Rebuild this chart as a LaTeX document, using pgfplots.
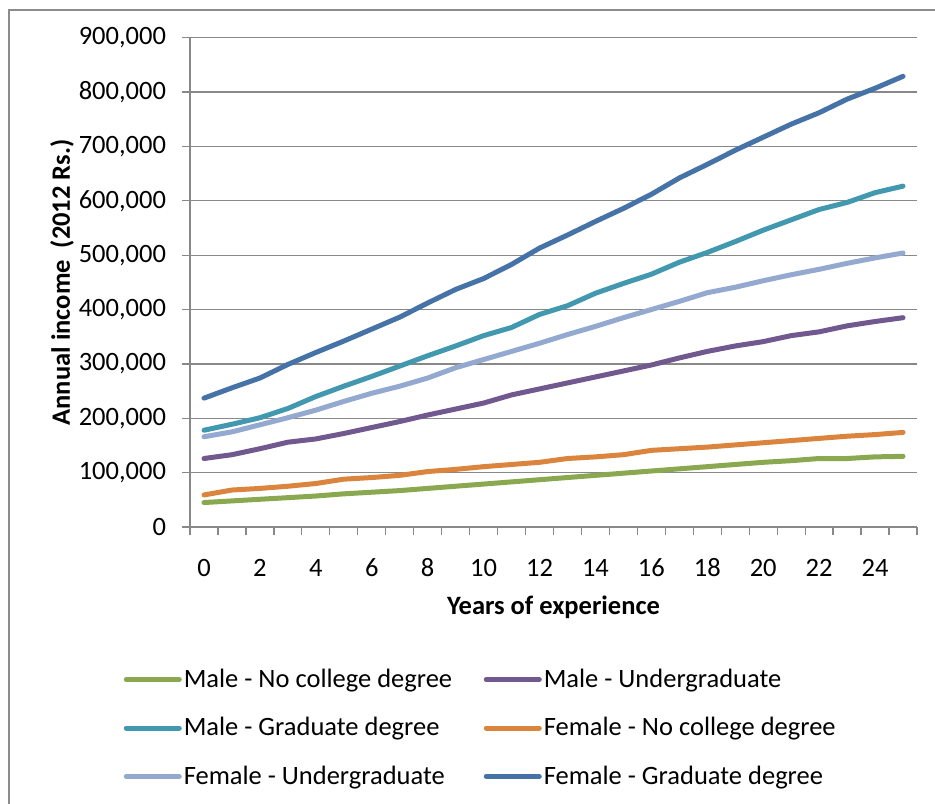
\documentclass[border=0pt]{standalone}
\usepackage{fontspec}
\setmainfont{Carlito}
\usepackage{pgfplots}
\pgfplotsset{compat=1.18}
\definecolor{cgreen}{HTML}{8AA84F}
\definecolor{cpurple}{HTML}{71588F}
\definecolor{cteal}{HTML}{4198AF}
\definecolor{corange}{HTML}{DB843D}
\definecolor{clblue}{HTML}{93A9CF}
\definecolor{cdblue}{HTML}{4572A7}
\definecolor{gridgray}{HTML}{888888}
\definecolor{bordergray}{HTML}{8C8C8C}

\pgfplotstableread{
x mnc mug mgd fnc fug fgd
0 45000 126000 178000 59000 166000 237000
1 48000 133000 189000 68000 175000 256000
2 51000 144000 201000 71000 188000 274000
3 54000 156000 218000 75000 201000 299000
4 57000 162000 240000 80000 215000 321000
5 61000 172000 259000 88000 231000 342000
6 64000 183000 277000 91000 246000 364000
7 67000 194000 296000 95000 259000 386000
8 71000 206000 315000 102000 274000 412000
9 75000 217000 333000 106000 293000 437000
10 79000 228000 352000 111000 308000 457000
11 83000 243000 367000 115000 323000 483000
12 87000 254000 391000 119000 338000 513000
13 91000 265000 407000 126000 354000 537000
14 95000 276000 430000 129000 369000 562000
15 99000 287000 448000 133000 385000 586000
16 103000 298000 465000 141000 400000 612000
17 107000 311000 487000 144000 415000 642000
18 111000 323000 505000 147000 431000 667000
19 115000 333000 525000 151000 441000 693000
20 119000 341000 546000 155000 453000 717000
21 122000 352000 565000 159000 464000 741000
22 126000 359000 584000 163000 474000 762000
23 126000 370000 597000 167000 485000 787000
24 129000 378000 615000 170000 495000 807000
25 130000 385000 627000 174000 504000 829000
}\datatable

\begin{document}
\fontsize{26.5bp}{31bp}\selectfont
\begin{tikzpicture}
\path[use as bounding box] (0,0) rectangle (935bp,-804bp);
\draw[color=bordergray, line width=1.5bp] (9bp,-815bp) -- (9bp,-10bp) -- (945bp,-10bp);
\begin{axis}[
  at={(190bp,-527bp)}, anchor=south west,
  scale only axis, width=727bp, height=489.3bp,
  xmin=-0.5, xmax=25.5, ymin=0, ymax=900000,
  axis x line=bottom, axis y line=left,
  axis line style={-, draw=gridgray, line width=1.3bp},
  xtick={-0.5,0.5,...,25.5}, xticklabels={},
  extra x ticks={0,2,...,24},
  extra x tick labels={0,2,4,6,8,10,12,14,16,18,20,22,24},
  extra x tick style={major tick length=0pt},
  ytick={0,100000,...,900000},
  ymajorgrids, grid style={draw=gridgray, line width=1.3bp},
  tick align=outside, major tick length=8bp,
  tick style={draw=gridgray, line width=1.3bp},
  scaled y ticks=false,
  yticklabel style={xshift=-7bp, /pgf/number format/fixed, /pgf/number format/precision=0, /pgf/number format/1000 sep={,}, /pgf/number format/assume math mode=true},
  xticklabel style={/pgf/number format/assume math mode=true, text height=16.5bp, text depth=0pt, anchor=north, yshift=-24bp},
  every axis y label/.style={at={(rel axis cs:-0.176,0.5)}, anchor=center, rotate=90},
  every axis x label/.style={at={(rel axis cs:0.5,-0.1635)}, anchor=center},
  ylabel={\bfseries Annual income\ \ (2012 Rs.)},
  xlabel={\bfseries Years of experience},
  legend columns=2,
  legend style={at={(rel axis cs:-0.0911,-0.2861)}, anchor=north west, draw=none, fill=none,
    inner sep=0pt, outer sep=0pt, column sep=0pt, row sep=20.5bp,
    nodes={inner sep=2bp, text height=18bp, text depth=6bp, anchor=base west}},
  legend cell align=left,
  legend image code/.code={\draw[#1, line width=5bp, line cap=round] (0bp,7.5bp) -- (53bp,7.5bp);},
  every axis plot/.append style={line width=5bp, line cap=round, line join=round, mark=none},
]
\addplot[cgreen] table[x=x, y=mnc] {\datatable};
\addlegendentry{\makebox[298bp][l]{Male - No college degree}}
\addplot[cpurple] table[x=x, y=mug] {\datatable};
\addlegendentry{Male - Undergraduate}
\addplot[cteal] table[x=x, y=mgd] {\datatable};
\addlegendentry{\makebox[298bp][l]{Male - Graduate degree}}
\addplot[corange] table[x=x, y=fnc] {\datatable};
\addlegendentry{Female - No college degree}
\addplot[clblue] table[x=x, y=fug] {\datatable};
\addlegendentry{\makebox[298bp][l]{Female - Undergraduate}}
\addplot[cdblue] table[x=x, y=fgd] {\datatable};
\addlegendentry{Female - Graduate degree}
\end{axis}
\end{tikzpicture}
\end{document}
